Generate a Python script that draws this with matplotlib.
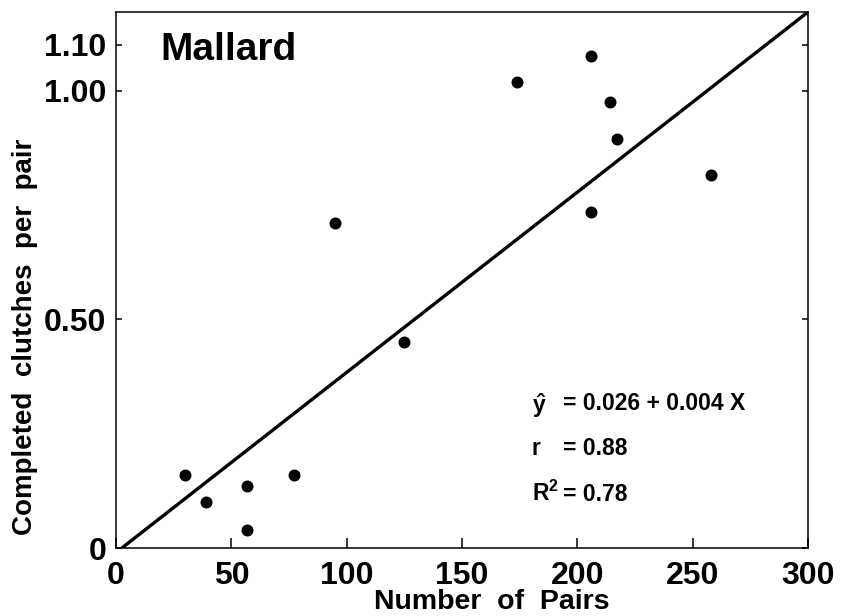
import numpy as np
import matplotlib
matplotlib.use("Agg")
import matplotlib.pyplot as plt

plt.rcParams['font.family'] = ['Liberation Sans', 'DejaVu Sans']
plt.rcParams['mathtext.fontset'] = 'custom'
plt.rcParams['mathtext.rm'] = 'Liberation Sans:bold'
plt.rcParams['mathtext.bf'] = 'Liberation Sans:bold'
plt.rcParams['mathtext.default'] = 'bf'

# data
pairs = [30, 39, 57, 57, 77, 95, 125, 174, 206, 206, 214, 217, 258]
clutches = [0.16, 0.10, 0.135, 0.04, 0.16, 0.71, 0.45, 1.02, 1.075, 0.735, 0.975, 0.895, 0.815]
# drawn regression line (as plotted)
line_a, line_b = -0.010, 0.00394
xticks = [0, 50, 100, 150, 200, 250, 300]
yticks = [0, 0.50, 1.00, 1.10]
ytick_labels = ["0", "0.50", "1.00", "1.10"]

fig = plt.figure(figsize=(8.46, 6.16), dpi=100)
ax = fig.add_axes([116/846, 1-548/616, 692/846, 536/616])
ax.set_xlim(0, 300); ax.set_ylim(0, 1.172)

ax.scatter(pairs, clutches, s=58, color="k", zorder=3)
x0 = -line_a/line_b
xl = np.array([x0, 300])
ax.plot(xl, line_a+line_b*xl, color="k", lw=2.4, solid_capstyle="butt", clip_on=True)

for s in ax.spines.values(): s.set_linewidth(1.1)
ax.set_xticks(xticks); ax.set_xticklabels([str(t) for t in xticks])
ax.set_yticks(yticks); ax.set_yticklabels(ytick_labels)
ax.tick_params(axis="x", direction="in", length=7, width=1.1, pad=9, labelsize=23)
ax.tick_params(axis="y", direction="in", length=4, width=1.1, pad=7, labelsize=23,
               right=True, labelright=False)
for lab in ax.get_xticklabels()+ax.get_yticklabels(): lab.set_fontweight("bold")

ax.text(0.064, 0.929, "Mallard", transform=ax.transAxes, fontsize=28, fontweight="bold", va="center")
fs = 16.5
kw = dict(transform=ax.transAxes, fontsize=fs, fontweight="bold", va="center")
ax.text(0.601, 0.266, r"$\hat{y}$", **kw)
ax.text(0.646, 0.269, "= 0.026 + 0.004 X", **kw)
ax.text(0.601, 0.185, "r", **kw)
ax.text(0.646, 0.185, "= 0.88", **kw)
ax.text(0.601, 0.102, "R$^2$", **kw)
ax.text(0.646, 0.099, "= 0.78", **kw)

fig.text(492/846, 1-602/616, "Number  of  Pairs", fontsize=20.5, fontweight="bold", ha="center", va="center")
fig.text(25/846, 1-337/616, "Completed  clutches  per  pair", fontsize=20, fontweight="bold",
         ha="center", va="center", rotation=90)

plt.savefig("out.png", dpi=100)
